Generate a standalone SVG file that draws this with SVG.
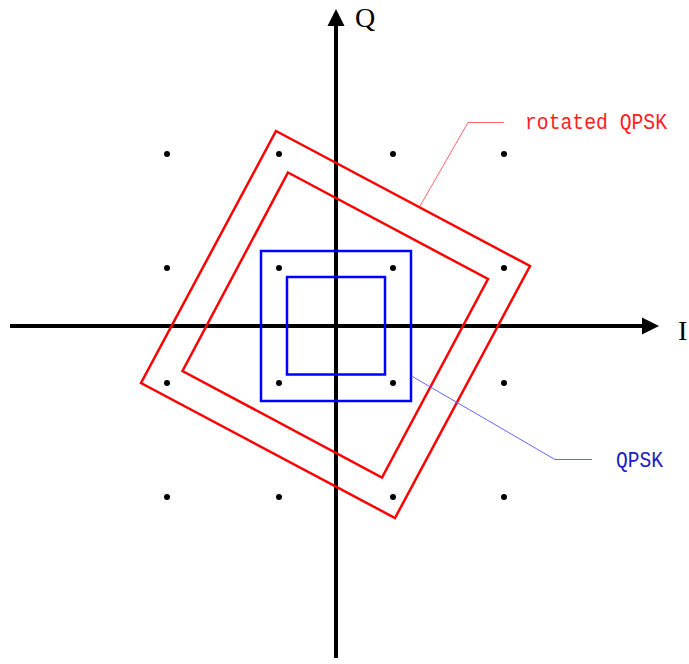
<svg xmlns="http://www.w3.org/2000/svg" width="689" height="664" viewBox="0 0 689 664">
<defs>
<style>
.axis{stroke:#000;stroke-width:4;fill:none}
.head{fill:#000}
.dot{fill:#000}
.red{stroke:#ff0000;stroke-width:2.5;fill:none}
.blue{stroke:#0000ff;stroke-width:2.5;fill:none}
.lead-r{stroke:#ff6666;stroke-width:1;fill:none}
.lead-b{stroke:#6666ff;stroke-width:1;fill:none}
.axlbl{font-family:"Liberation Serif",serif;font-size:28px;fill:#000}
.lbl{font-family:"Liberation Mono","DejaVu Sans Mono",monospace;font-size:22px}
</style>
</defs>
<rect width="689" height="664" fill="#fff"/>
<g id="axes">
<line class="axis" x1="10" y1="326" x2="645" y2="326"/>
<polygon class="head" points="659,326 642,317.5 642,334.5"/>
<line class="axis" x1="336" y1="658" x2="336" y2="23"/>
<polygon class="head" points="336,9 327.5,26 344.5,26"/>
<text class="axlbl" x="355" y="27">Q</text>
<text class="axlbl" x="678" y="340">I</text>
</g>
<g id="points">
<circle class="dot" cx="167" cy="154" r="3"/>
<circle class="dot" cx="279" cy="154" r="3"/>
<circle class="dot" cx="393" cy="154" r="3"/>
<circle class="dot" cx="504" cy="154" r="3"/>
<circle class="dot" cx="167" cy="268" r="3"/>
<circle class="dot" cx="279" cy="268" r="3"/>
<circle class="dot" cx="393" cy="268" r="3"/>
<circle class="dot" cx="504" cy="268" r="3"/>
<circle class="dot" cx="167" cy="383" r="3"/>
<circle class="dot" cx="279" cy="383" r="3"/>
<circle class="dot" cx="393" cy="383" r="3"/>
<circle class="dot" cx="504" cy="383" r="3"/>
<circle class="dot" cx="167" cy="497" r="3"/>
<circle class="dot" cx="279" cy="497" r="3"/>
<circle class="dot" cx="393" cy="497" r="3"/>
<circle class="dot" cx="504" cy="497" r="3"/>
</g>
<g id="rotated-qpsk">
<polygon class="red" points="276,131 530,266 395,518 141,383"/>
<polygon class="red" points="288,172.5 488,279 382,477.5 182.5,371"/>
</g>
<g id="qpsk">
<rect class="blue" x="261" y="251" width="150" height="150"/>
<rect class="blue" x="287" y="277" width="98" height="97.5"/>
</g>
<g id="connectors">
<polyline class="lead-r" points="420,206 468,122.5 504,122.5"/>
<polyline class="lead-b" points="411.5,376 555,459.5 592,459.5"/>
</g>
<g id="labels">
<text class="lbl" x="525" y="129" fill="#ff2020" textLength="142" lengthAdjust="spacingAndGlyphs">rotated QPSK</text>
<text class="lbl" x="616" y="467" fill="#2020c0" textLength="47" lengthAdjust="spacingAndGlyphs">QPSK</text>
</g>
</svg>
